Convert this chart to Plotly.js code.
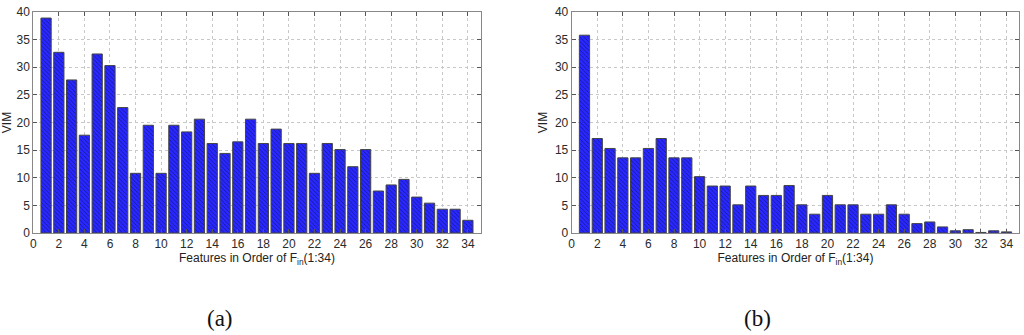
<!DOCTYPE html>
<html>
<head>
<meta charset="utf-8">
<script src="https://cdn.plot.ly/plotly-3.0.1.min.js"></script>
<style>html,body{margin:0;padding:0;background:#fff;}#chart{width:1024px;height:335px;}</style>
</head>
<body>
<div id="chart"></div>
<script>
const features = Array.from({length: 34}, (_, i) => i + 1);
const vimA = [38.9, 32.7, 27.7, 17.7, 32.4, 30.3, 22.7, 10.8, 19.5, 10.8,
              19.5, 18.3, 20.6, 16.2, 14.4, 16.5, 20.6, 16.2, 18.8, 16.2,
              16.2, 10.8, 16.2, 15.1, 12.0, 15.1, 7.6, 8.7, 9.7, 6.5,
              5.4, 4.3, 4.3, 2.3];
const vimB = [35.8, 17.1, 15.3, 13.6, 13.6, 15.3, 17.1, 13.6, 13.6, 10.2,
              8.5, 8.5, 5.1, 8.5, 6.8, 6.8, 8.6, 5.1, 3.4, 6.8,
              5.1, 5.1, 3.4, 3.4, 5.1, 3.4, 1.7, 2.0, 1.1, 0.4,
              0.6, 0.1, 0.4, 0.2];
const xTicks = [0,2,4,6,8,10,12,14,16,18,20,22,24,26,28,30,32,34];
const yTicks = [0,5,10,15,20,25,30,35,40];
const panelLabels = ['(a)', '(b)'];
const xTitle = 'Features in Order of F<sub>in</sub>(1:34)';
const yTitle = 'VIM';

const barMarker = {
  color: '#2a2aff',
  line: {color: '#444', width: 1},
  pattern: {shape: '\\', fgcolor: '#141488', bgcolor: '#2828ff', size: 3, solidity: 0.25}
};

const traces = [
  {type: 'bar', x: features, y: vimA, width: 0.8, marker: barMarker, xaxis: 'x', yaxis: 'y', hoverinfo: 'skip'},
  {type: 'bar', x: features, y: vimB, width: 0.8, marker: barMarker, xaxis: 'x2', yaxis: 'y2', hoverinfo: 'skip'}
];

const tickFont = {family: 'Liberation Sans, Arial, sans-serif', size: 12, color: '#2a2a2a'};
function xax(domain, anchor) {
  return {
    domain: domain, anchor: anchor, range: [0, 35], tickvals: xTicks, ticktext: xTicks.map(String),
    ticks: 'inside', ticklen: 4, tickcolor: '#555', showline: true, linecolor: '#888', linewidth: 1,
    mirror: 'allticks', showgrid: true, gridcolor: '#c8c8c8', griddash: 'dot', gridwidth: 1,
    zeroline: false, tickfont: tickFont, fixedrange: true,
    title: {text: xTitle, font: {family: 'Liberation Sans, Arial, sans-serif', size: 12, color: '#222'}, standoff: 0}
  };
}
function yax(domain, anchor) {
  return {
    domain: domain, anchor: anchor, range: [0, 40], tickvals: yTicks, ticktext: yTicks.map(String),
    ticks: 'inside', ticklen: 4, tickcolor: '#555', showline: true, linecolor: '#888', linewidth: 1,
    mirror: 'allticks', showgrid: true, gridcolor: '#c8c8c8', griddash: 'dot', gridwidth: 1,
    zeroline: false, tickfont: tickFont, fixedrange: true,
    title: {text: yTitle, font: {family: 'Liberation Sans, Arial, sans-serif', size: 12, color: '#222'}, standoff: 4}
  };
}

const layout = {
  width: 1024, height: 335,
  margin: {l: 0, r: 0, t: 0, b: 0},
  paper_bgcolor: '#fff', plot_bgcolor: '#fff',
  showlegend: false, bargap: 0.2,
  xaxis: xax([0.0325, 0.4694], 'y'),
  yaxis: yax([0.3045, 0.9642], 'x'),
  xaxis2: xax([0.5583, 0.9954], 'y2'),
  yaxis2: yax([0.3045, 0.9642], 'x2'),
  annotations: [
    {text: panelLabels[0], xref: 'paper', yref: 'paper', x: 220/1024, y: 1 - 318/335, yanchor: 'middle', xanchor: 'center', showarrow: false,
     font: {family: 'Liberation Serif, DejaVu Serif, serif', size: 23, color: '#111'}},
    {text: panelLabels[1], xref: 'paper', yref: 'paper', x: 757/1024, y: 1 - 318/335, yanchor: 'middle', xanchor: 'center', showarrow: false,
     font: {family: 'Liberation Serif, DejaVu Serif, serif', size: 23, color: '#111'}}
  ]
};

Plotly.newPlot('chart', traces, layout, {staticPlot: true, displayModeBar: false});
</script>
</body>
</html>
